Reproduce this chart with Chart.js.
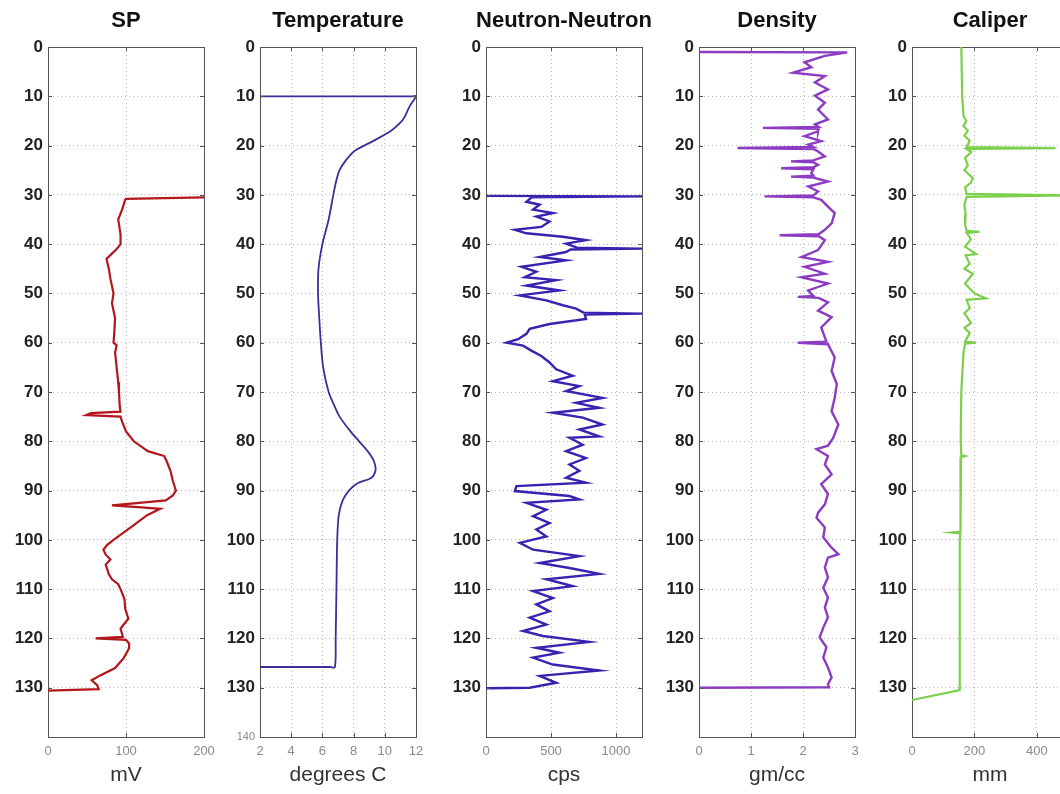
<!DOCTYPE html>
<html>
<head>
<meta charset="utf-8">
<script src="https://cdn.jsdelivr.net/npm/chart.js@4.4.1/dist/chart.umd.min.js"></script>
<style>
  body { margin: 0; background: #fff; overflow: hidden; }
  #wrap { position: relative; width: 1060px; height: 794px; overflow: hidden; }
  .panel { position: absolute; top: 0; width: 250px; height: 794px; }
</style>
</head>
<body>
<div id="wrap">
  <div class="panel" style="left:1px"><canvas id="spChart" width="250" height="794"></canvas></div>
  <div class="panel" style="left:213px"><canvas id="tempChart" width="250" height="794"></canvas></div>
  <div class="panel" style="left:439px"><canvas id="nnChart" width="250" height="794"></canvas></div>
  <div class="panel" style="left:652px"><canvas id="densChart" width="250" height="794"></canvas></div>
  <div class="panel" style="left:865px"><canvas id="calChart" width="250" height="794"></canvas></div>
</div>
<script>
// ========== DADOS ==========
const titulos = ['SP', 'Temperature', 'Neutron-Neutron', 'Density', 'Caliper'];
const unidades = ['mV', 'degrees C', 'cps', 'gm/cc', 'mm'];
const profundidadeTicks = [0, 10, 20, 30, 40, 50, 60, 70, 80, 90, 100, 110, 120, 130, 140];

// SP (mV)
const spDepth = [30.5, 30.8, 31, 33, 35, 38, 40, 41, 43, 45, 47, 50, 52, 55, 58, 60, 60.5, 62, 65, 68,
  70, 73, 74, 74.3, 74.7, 75, 76, 78, 80, 82, 83, 84, 86, 88, 90, 91, 92, 92.6, 93, 93.4,
  93.7, 95, 97, 100, 101, 102, 103, 104, 105, 106, 107, 108, 109, 110, 112, 114, 116, 118, 119.7, 120,
  120.3, 121, 122, 124, 126, 127.5, 128.5, 129.5, 130.3, 130.6];
const spValue = [200, 100, 99, 95, 90, 93, 93, 88, 75, 78, 80, 84, 82, 86, 85, 84, 88, 86, 88, 90,
  91, 92, 93, 55, 49, 93, 95, 100, 110, 128, 149, 152, 157, 160, 164, 160, 151, 110, 82, 120,
  144, 127, 110, 84, 76, 71, 74, 80, 74, 76, 78, 82, 90, 93, 98, 99, 103, 93, 96, 61,
  100, 104, 104, 97, 86, 67, 56, 63, 65, 0];

// Temperature (degrees C)
const tempDepth = [10, 10, 10, 12, 14, 15, 17, 19, 21, 23, 25, 27, 30, 35, 40, 45, 50, 55, 60, 65,
  70, 73, 75, 78, 80, 82, 84, 86, 87.5, 88.5, 90, 92, 95, 100, 110, 120, 125.8, 125.8, 125.8];
const tempValue = [2, 11.8, 12, 11.6, 11.3, 11.1, 10.4, 9.3, 8.1, 7.5, 7.1, 6.9, 6.7, 6.4, 6.0, 5.75, 5.72, 5.8, 5.9, 6.05,
  6.4, 6.8, 7.1, 7.8, 8.35, 8.9, 9.3, 9.4, 9.1, 8.25, 7.7, 7.3, 7.05, 6.95, 6.9, 6.85, 6.8, 6.5, 2];

// Neutron-Neutron (cps)
const nnDepth = [30.2, 30.3, 30.5, 31.4, 32, 33, 33.7, 34.4, 35.4, 36.5, 37.1, 37.8, 38.5, 39.2, 39.9, 40.7, 40.9, 41.1, 41.6, 42.6,
  43.3, 44.6, 45.6, 46.7, 47.3, 48.4, 49.4, 50.4, 51.4, 52.4, 53.1, 53.9, 54.1, 54.3, 55.2, 56.2, 57.2, 58.2, 59.3, 60,
  60.6, 61.6, 62.7, 64, 65.4, 66.7, 67.8, 68.8, 69.8, 71.2, 72.2, 73.2, 74.2, 75.2, 76.6, 77.6, 79, 79.3, 80.7, 82,
  83.4, 84.7, 86, 87.4, 88.4, 89.1, 90.1, 91.1, 91.8, 92.5, 93.9, 95.2, 96.6, 97.9, 99.3, 100.6, 102, 103.3, 104.7, 105.7,
  106.9, 108, 109.4, 110.4, 111.8, 113.1, 114.5, 115.8, 117.2, 118.5, 119.5, 120.7, 121.9, 122.9, 123.9, 125.3, 126.5, 127.6, 129, 130,
  130.1];
const nnCps = [0, 1200, 350, 311, 413, 362, 514, 387, 489, 425, 222, 311, 591, 769, 616, 700, 1200, 650, 616, 413,
  616, 273, 387, 298, 540, 311, 565, 260, 464, 591, 693, 750, 1200, 760, 769, 489, 336, 311, 247, 158,
  285, 349, 425, 489, 540, 667, 514, 718, 616, 896, 693, 871, 514, 744, 896, 718, 871, 642, 744, 616,
  769, 642, 718, 616, 769, 234, 222, 642, 718, 311, 464, 362, 489, 387, 464, 260, 362, 718, 413, 642,
  871, 464, 667, 362, 514, 387, 489, 336, 464, 285, 438, 794, 387, 565, 362, 514, 871, 413, 540, 336,
  0];

// Density (gm/cc)
const densDepth = [1, 1.1, 1.8, 3.1, 4.1, 5.2, 5.9, 7.2, 8.6, 9.9, 11.3, 12.7, 14.7, 15.7, 16.2, 16.4, 16.6, 17.1, 18.1, 19.1,
  19.8, 20.3, 20.5, 20.7, 21.2, 22.2, 23, 23.2, 23.4, 23.9, 24.4, 24.6, 24.8, 25.6, 26.1, 26.3, 26.5, 27.3, 28.3, 29.3,
  30.1, 30.3, 30.5, 31, 32.4, 33.7, 35.8, 37.1, 38, 38.2, 38.4, 39.2, 41.2, 42.6, 43.6, 44.6, 46, 46.7, 48, 49.4,
  50.5, 50.7, 50.9, 51.8, 53.5, 54.8, 56.9, 58.9, 59.8, 60, 60.3, 63, 65.7, 68.4, 71.1, 73.9, 76.6, 79.3, 80.9, 81.6,
  83, 84.7, 86.7, 88.7, 90.7, 92.8, 94.5, 95.5, 97.5, 99.5, 101.6, 102.9, 103.6, 105.6, 107.6, 109.7, 111.7, 113.7, 115.7, 117.8,
  119.8, 121.8, 123.9, 125.9, 127.9, 129.3, 129.9, 130];
const densValue = [0, 2.85, 2.42, 2.03, 2.16, 1.81, 2.42, 2.23, 2.48, 2.23, 2.42, 2.29, 2.48, 2.23, 2.3, 1.23, 2.3, 2.29, 2.03, 2.35,
  2.1, 2.2, 0.74, 2.2, 2.29, 2.42, 2.2, 1.77, 2.2, 2.29, 2.2, 1.58, 2.2, 2.16, 2.2, 1.77, 2.2, 2.48, 2.1, 2.29,
  2.2, 1.26, 2.2, 2.35, 2.48, 2.61, 2.55, 2.42, 2.3, 1.55, 2.3, 2.42, 2.29, 1.97, 2.48, 2.03, 2.42, 1.97, 2.48, 2.1,
  2.2, 1.9, 2.3, 2.48, 2.29, 2.55, 2.35, 2.42, 2.45, 1.9, 2.48, 2.61, 2.55, 2.65, 2.61, 2.55, 2.68, 2.58, 2.48, 2.26,
  2.48, 2.42, 2.55, 2.35, 2.48, 2.42, 2.29, 2.26, 2.42, 2.39, 2.55, 2.68, 2.48, 2.42, 2.48, 2.39, 2.48, 2.42, 2.48, 2.39,
  2.32, 2.45, 2.39, 2.48, 2.55, 2.48, 2.5, 0];

// Caliper (mm)
const calDepth = [0, 10, 14, 15, 16, 17, 18, 19, 20.3, 20.5, 20.7, 21.3, 22.5, 24, 25, 26.6, 27.5, 28.5, 29.8, 30.1,
  30.4, 32, 34, 36, 37.3, 37.5, 37.7, 39, 40.5, 42, 42.3, 44, 45, 46, 48, 50, 51, 51.3, 53, 54,
  56, 57, 58, 59.8, 60, 60.2, 62, 70, 80, 82.8, 83, 83.2, 90, 98.3, 98.5, 98.7, 100, 110, 120, 130.5,
  132.5];
const calValue = [158, 161, 165, 174, 165, 179, 168, 185, 175, 460, 175, 190, 170, 179, 168, 195, 189, 170, 175, 500,
  175, 168, 172, 170, 175, 216, 175, 189, 170, 205, 172, 185, 168, 195, 170, 200, 237, 175, 185, 168,
  189, 168, 185, 170, 205, 170, 165, 158, 156, 158, 170, 157, 156, 155, 126, 155, 153, 153, 153, 153,
  0];

// ========== GRÁFICOS ==========
Chart.defaults.font.family = "'Liberation Sans', Arial, sans-serif";
Chart.defaults.animation = false;

function pontos(depths, values) {
    const n = Math.min(depths.length, values.length);
    const out = [];
    for (let i = 0; i < n; i++) out.push({ x: values[i], y: depths[i] });
    return out;
}

// marcas de escala para dentro, estilo MATLAB
const marcasInternas = {
    id: 'marcasInternas',
    afterDraw(chart) {
        const { ctx, chartArea: a, scales } = chart;
        const x = scales.x, y = scales.y;
        ctx.save();
        ctx.strokeStyle = '#555';
        ctx.lineWidth = 1;
        ctx.beginPath();
        y.ticks.forEach(t => {
            const py = Math.round(y.getPixelForValue(t.value)) + 0.5;
            ctx.moveTo(a.left, py); ctx.lineTo(a.left + 4, py);
            ctx.moveTo(a.right, py); ctx.lineTo(a.right - 4, py);
        });
        x.ticks.forEach(t => {
            const px = Math.round(x.getPixelForValue(t.value)) + 0.5;
            ctx.moveTo(px, a.top); ctx.lineTo(px, a.top + 4);
            ctx.moveTo(px, a.bottom); ctx.lineTo(px, a.bottom - 4);
        });
        ctx.stroke();
        ctx.restore();
    }
};

function criarGrafico(id, idx, dados, cor, largura, xmin, xmax, xticks, tension) {
    const ctx = document.getElementById(id).getContext('2d');
    const isTemp = idx === 1;
    return new Chart(ctx, {
        type: 'scatter',
        data: {
            datasets: [{
                data: dados,
                showLine: true,
                borderColor: cor,
                borderWidth: largura,
                pointRadius: 0,
                tension: tension,
                xAxisID: 'x',
                yAxisID: 'y'
            }]
        },
        options: {
            responsive: false,
            maintainAspectRatio: false,
            layout: { padding: 0 },
            plugins: {
                legend: { display: false },
                tooltip: { enabled: false },
                title: {
                    display: true,
                    text: titulos[idx],
                    color: '#111',
                    font: { size: 22, weight: 'bold', lineHeight: 1 },
                    padding: { top: 10, bottom: 15 }
                }
            },
            scales: {
                x: {
                    type: 'linear',
                    position: 'bottom',
                    min: xmin,
                    max: xmax,
                    afterBuildTicks: s => { s.ticks = xticks.map(v => ({ value: v })); },
                    afterFit: s => { s.height = 57; },
                    ticks: {
                        color: '#8a8a8a',
                        font: { size: 13 },
                        padding: 7,
                        maxRotation: 0,
                        callback: v => String(v)
                    },
                    grid: { color: '#b9b9b9', drawTicks: false },
                    border: { color: '#555', dash: [1, 3] },
                    title: {
                        display: true,
                        text: unidades[idx],
                        color: '#333',
                        font: { size: 21, lineHeight: 1.2 },
                        padding: { top: 0, bottom: 6 }
                    }
                },
                xT: {
                    type: 'linear',
                    position: 'top',
                    min: xmin,
                    max: xmax,
                    afterFit: s => { s.height = 0; },
                    ticks: { display: false },
                    grid: { display: false, drawTicks: false },
                    border: { color: '#555' }
                },
                y: {
                    type: 'linear',
                    position: 'left',
                    reverse: true,
                    min: 0,
                    max: 140,
                    afterBuildTicks: s => { s.ticks = profundidadeTicks.map(v => ({ value: v })); },
                    afterFit: s => { s.width = 47; },
                    ticks: {
                        padding: 5,
                        color: ctx => (ctx.tick && ctx.tick.value === 140) ? '#888' : '#222',
                        font: ctx => (ctx.tick && ctx.tick.value === 140)
                            ? { size: 11, weight: 'normal' }
                            : { size: 17, weight: 'bold' },
                        callback: v => (v === 140 && !isTemp) ? '' : String(v)
                    },
                    grid: { color: '#b9b9b9', drawTicks: false },
                    border: { color: '#555', dash: [1, 3] }
                },
                yR: {
                    type: 'linear',
                    position: 'right',
                    reverse: true,
                    min: 0,
                    max: 140,
                    afterFit: s => { s.width = 47; },
                    ticks: { display: false },
                    grid: { display: false, drawTicks: false },
                    border: { color: '#555' }
                }
            }
        },
        plugins: [marcasInternas]
    });
}

let spChart = null, tempChart = null, nnChart = null, densChart = null, calChart = null;
try {
    spChart = criarGrafico('spChart', 0, pontos(spDepth, spValue), '#b3161c', 2.2, 0, 200, [0, 100, 200], 0);
    tempChart = criarGrafico('tempChart', 1, pontos(tempDepth, tempValue), '#3b2f98', 1.8, 2, 12, [2, 4, 6, 8, 10, 12], 0.3);
    nnChart = criarGrafico('nnChart', 2, pontos(nnDepth, nnCps), '#3a22b0', 2.4, 0, 1200, [0, 500, 1000], 0);
    densChart = criarGrafico('densChart', 3, pontos(densDepth, densValue), '#8b3cc2', 2.4, 0, 3, [0, 1, 2, 3], 0);
    calChart = criarGrafico('calChart', 4, pontos(calDepth, calValue), '#7ccf4a', 2.2, 0, 500, [0, 200, 400], 0);
} catch (error) {
    console.error('Erro ao criar gráficos:', error);
}
</script>
</body>
</html>
